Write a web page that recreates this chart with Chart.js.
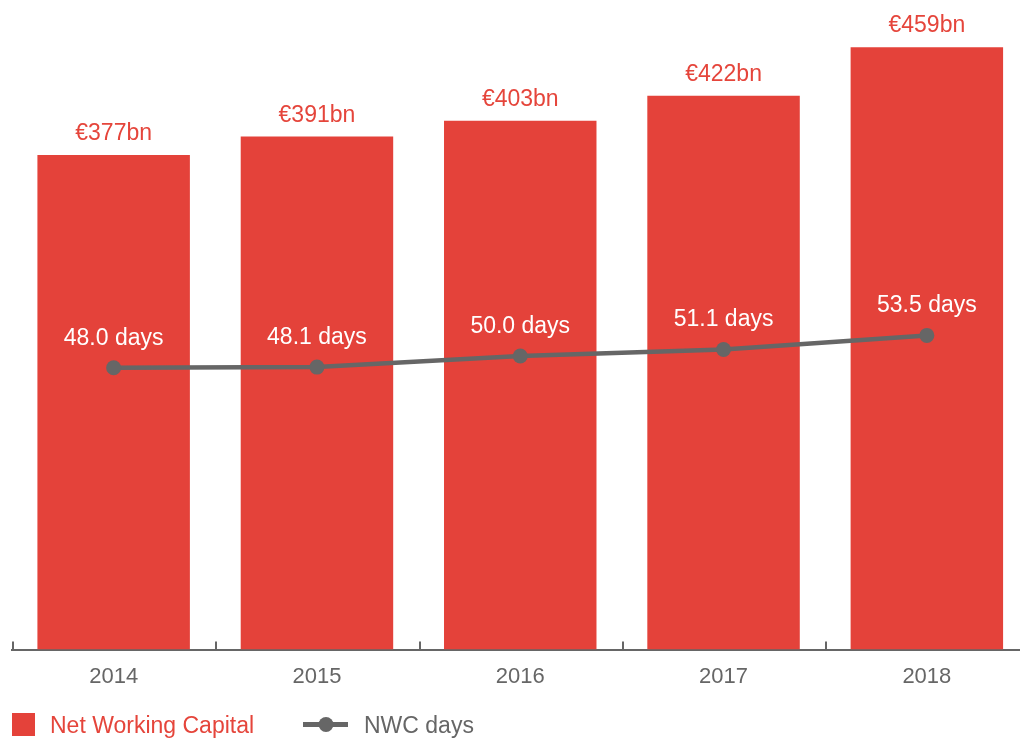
<!DOCTYPE html>
<html>
<head>
<meta charset="utf-8">
<script src="https://cdn.jsdelivr.net/npm/chart.js@4/dist/chart.umd.min.js"></script>
<style>
  html, body { margin: 0; padding: 0; background: #ffffff; overflow: hidden; }
  #wrap { width: 1020px; height: 739px; overflow: hidden; position: relative; }
  canvas { display: block; }
</style>
</head>
<body>
<div id="wrap"><canvas id="chart" width="1036" height="739"></canvas></div>
<script>
// ---- Data ----
const categories = ['2014', '2015', '2016', '2017', '2018'];
const nwcValues = [377, 391, 403, 422, 459];      // € bn
const nwcDays = [48.0, 48.1, 50.0, 51.1, 53.5];   // days
const seriesNames = ['Net Working Capital', 'NWC days'];

// ---- Styles ----
const RED = '#e4423a';
const RED_TEXT = '#e5453b';
const GREY = '#666666';
const FONT = '"Liberation Sans", Arial, Helvetica, sans-serif';

const customPlugin = {
  id: 'customDecor',
  beforeDatasetsDraw(chart) {
    const xs = chart.scales.x;
    const ca = chart.chartArea;
    const ctx = chart.ctx;
    const step = xs.getPixelForValue(1) - xs.getPixelForValue(0);
    ctx.save();
    ctx.strokeStyle = GREY;
    ctx.lineWidth = 2;
    for (let i = 0; i <= categories.length; i++) {
      const px = Math.round(xs.getPixelForValue(i) - step / 2) + 1;
      ctx.beginPath();
      ctx.moveTo(px, ca.bottom);
      ctx.lineTo(px, ca.bottom - 8);
      ctx.stroke();
    }
    ctx.restore();
  },
  afterDatasetsDraw(chart) {
    const ctx = chart.ctx;
    ctx.save();
    ctx.textAlign = 'center';
    ctx.textBaseline = 'alphabetic';
    ctx.font = '23px ' + FONT;
    const barMeta = chart.getDatasetMeta(0);
    ctx.fillStyle = RED_TEXT;
    barMeta.data.forEach((el, i) => {
      ctx.fillText('€' + nwcValues[i] + 'bn', el.x, el.y - 15);
    });
    const lineMeta = chart.getDatasetMeta(1);
    ctx.fillStyle = '#ffffff';
    lineMeta.data.forEach((el, i) => {
      ctx.fillText(nwcDays[i].toFixed(1) + ' days', el.x, el.y - 23);
    });
    ctx.restore();
  },
  afterDraw(chart) {
    const ctx = chart.ctx;
    ctx.save();
    ctx.font = '23px ' + FONT;
    ctx.textBaseline = 'alphabetic';
    ctx.textAlign = 'left';
    ctx.fillStyle = RED;
    ctx.fillRect(12, 713, 23, 23);
    ctx.fillStyle = RED_TEXT;
    ctx.fillText(chart.data.datasets[0].label, 50, 733);
    ctx.strokeStyle = GREY;
    ctx.lineWidth = 5;
    ctx.beginPath();
    ctx.moveTo(303, 724.5);
    ctx.lineTo(348, 724.5);
    ctx.stroke();
    ctx.fillStyle = GREY;
    ctx.beginPath();
    ctx.arc(326, 724.5, 7.5, 0, Math.PI * 2);
    ctx.fill();
    ctx.fillText(chart.data.datasets[1].label, 364, 733);
    ctx.restore();
  }
};

new Chart(document.getElementById('chart'), {
  data: {
    labels: categories,
    datasets: [
      {
        type: 'bar',
        label: seriesNames[0],
        data: nwcValues,
        backgroundColor: RED,
        borderWidth: 0,
        barPercentage: 0.75,
        categoryPercentage: 1.0,
        yAxisID: 'y',
        order: 2
      },
      {
        type: 'line',
        label: seriesNames[1],
        data: nwcDays,
        borderColor: GREY,
        borderWidth: 4.5,
        backgroundColor: GREY,
        pointRadius: 7.5,
        pointBackgroundColor: GREY,
        pointBorderWidth: 0,
        pointHoverRadius: 7.5,
        tension: 0,
        fill: false,
        yAxisID: 'y2',
        order: 1
      }
    ]
  },
  options: {
    responsive: false,
    animation: false,
    devicePixelRatio: 1,
    layout: { padding: { left: 12, right: 0, top: 20, bottom: 35 } },
    plugins: {
      legend: { display: false },
      tooltip: { enabled: false }
    },
    scales: {
      x: {
        offset: true,
        grid: { display: false, drawTicks: false },
        border: { display: true, color: GREY, width: 2 },
        ticks: {
          color: GREY,
          padding: 14,
          font: { size: 22, family: FONT }
        }
      },
      y: {
        display: false,
        min: 0,
        max: 479.8
      },
      y2: {
        display: false,
        position: 'right',
        min: 0,
        max: 107.2
      }
    }
  },
  plugins: [customPlugin]
});
</script>
</body>
</html>
